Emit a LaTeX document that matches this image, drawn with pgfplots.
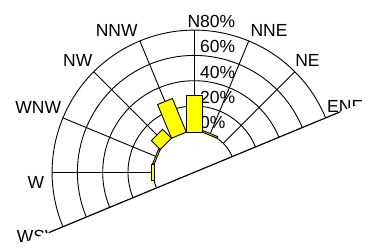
\documentclass[border=0pt]{standalone}
\usepackage{pgfplots}
\pgfplotsset{compat=1.18}
\usepackage{pgfplotstable}
\usepackage{fontspec}
\setmainfont{Liberation Sans}
\definecolor{baryellow}{RGB}{255,255,0}
\tikzset{lbl/.style={font=\fontsize{17.5bp}{20bp}\selectfont, inner sep=0pt, text=black}}

% wind direction (deg, 0 = east, counter-clockwise) and frequency (%)
\pgfplotstableread{
dir value
67.5 0.7
90 28
112.5 28.2
135 9.3
157.5 0.7
180 1.5
}\wind

% corner template of one rectangular bar: side (s) and inner/outer end (e)
\pgfplotstableread{
s e
-1 0
-1 1
1 1
1 0
}\corners

% hole radius 32.4 units; bar half width 6.32 units
\newcommand\windbar[1]{%
  \pgfplotstablegetelem{#1}{dir}\of\wind \let\bd\pgfplotsretval
  \pgfplotstablegetelem{#1}{value}\of\wind \let\bv\pgfplotsretval
  \edef\next{\noexpand\addplot[draw=black, fill=baryellow, line width=0.9bp]
    table[x expr={((1-\noexpand\thisrow{e})*31.78+\noexpand\thisrow{e}*(32.4+\bv))*cos(\bd)-\noexpand\thisrow{s}*6.32*sin(\bd)},
          y expr={((1-\noexpand\thisrow{e})*31.78+\noexpand\thisrow{e}*(32.4+\bv))*sin(\bd)+\noexpand\thisrow{s}*6.32*cos(\bd)}]
    {\noexpand\corners} -- cycle;}%
  \next}

\begin{document}
\begin{tikzpicture}
\useasboundingbox (0,0) rectangle (370bp,249bp);
\clip (0,0) rectangle (370bp,249bp);
\begin{axis}[
  x=1.265bp, y=1.265bp,
  xmin=-153.6, xmax=138.9, ymin=-60.63, ymax=136.2,
  hide axis, clip=false,
]
% rings (0 % ... 80 %)
\pgfplotsinvokeforeach{32.4,52.4,72.4,92.4,112.4}{
  \draw[black, line width=0.9bp] (axis cs:{#1*cos(22.5)},{#1*sin(22.5)}) arc[start angle=22.5, end angle=202.5, radius={#1*1.265bp}];
}
% spokes
\pgfplotsinvokeforeach{45,67.5,90,112.5,135,157.5,180}{
  \draw[black, line width=0.9bp] (axis cs:{32.4*cos(#1)},{32.4*sin(#1)}) -- (axis cs:{112.4*cos(#1)},{112.4*sin(#1)});
}
% radial labels
\node[lbl, anchor=base west, xshift=5.7bp, yshift=2.7bp] at (axis cs:0,112.4) {80\%};
\node[lbl, anchor=base west, xshift=5.7bp, yshift=2.7bp] at (axis cs:0,92.4) {60\%};
\node[lbl, anchor=base west, xshift=5.7bp, yshift=2.7bp] at (axis cs:0,72.4) {40\%};
\node[lbl, anchor=base west, xshift=5.7bp, yshift=2.7bp] at (axis cs:0,52.4) {20\%};
\node[lbl, anchor=base west, xshift=5.7bp, yshift=2.7bp] at (axis cs:0,32.4) {0\%};
% direction labels
\node[lbl, xshift=-0.3bp, yshift=151.3bp] at (axis cs:0,0) {N};
\node[lbl, xshift=74.7bp, yshift=142.3bp] at (axis cs:0,0) {NNE};
\node[lbl, xshift=113.2bp, yshift=112.3bp] at (axis cs:0,0) {NE};
\node[lbl, anchor=west, xshift=132.7bp, yshift=66.3bp] at (axis cs:0,0) {ENE};
\node[lbl, xshift=-77.6bp, yshift=142.3bp] at (axis cs:0,0) {NNW};
\node[lbl, xshift=-116.6bp, yshift=112.3bp] at (axis cs:0,0) {NW};
\node[lbl, xshift=-156bp, yshift=64.8bp] at (axis cs:0,0) {WNW};
\node[lbl, xshift=-158.5bp, yshift=-10.2bp] at (axis cs:0,0) {W};
\node[lbl, anchor=west, xshift=-177.6bp, yshift=-64.2bp] at (axis cs:0,0) {WSW};
% bars
\pgfplotsinvokeforeach{0,...,5}{\windbar{#1}}
% white half plane below the cut line
\fill[white] (axis cs:-369.6,-153.1) -- (axis cs:369.6,153.1) -- (axis cs:522.7,-216.5) -- (axis cs:-216.5,-522.7) -- cycle;
\draw[black, line width=1.2bp] (axis cs:-115.1,-47.7) -- (axis cs:115.1,47.7);
\end{axis}
\end{tikzpicture}
\end{document}
